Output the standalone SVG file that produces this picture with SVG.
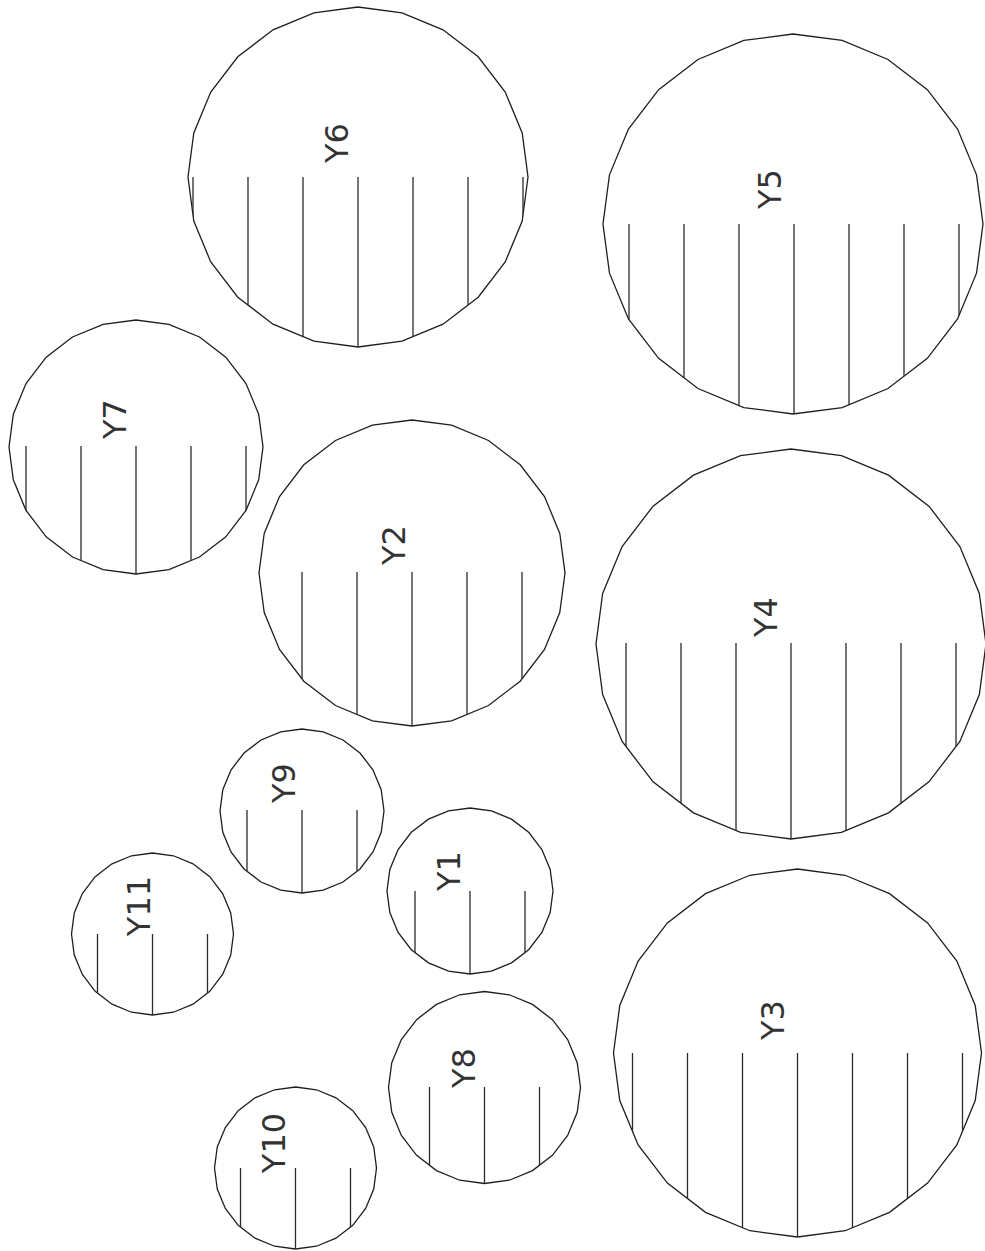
<svg xmlns="http://www.w3.org/2000/svg" xmlns:xlink="http://www.w3.org/1999/xlink" width="985" height="1251" viewBox="0 0 985 1251">
<style>
.ring{fill:none;stroke:#1e1e1e;stroke-width:1.3}
.hatch{fill:none;stroke:#2a2a2a;stroke-width:1.3}
.lbl{font-family:"DejaVu Sans",sans-serif;font-size:32px;fill:#333;text-anchor:middle}
</style>
<defs>
<polygon id="p24" vector-effect="non-scaling-stroke" points="1,0 0.96593,0.25882 0.86603,0.5 0.70711,0.70711 0.5,0.86603 0.25882,0.96593 0,1 -0.25882,0.96593 -0.5,0.86603 -0.70711,0.70711 -0.86603,0.5 -0.96593,0.25882 -1,0 -0.96593,-0.25882 -0.86603,-0.5 -0.70711,-0.70711 -0.5,-0.86603 -0.25882,-0.96593 0,-1 0.25882,-0.96593 0.5,-0.86603 0.70711,-0.70711 0.86603,-0.5 0.96593,-0.25882"/>
<clipPath id="c6"><use href="#p24" transform="translate(358 177) scale(170)"/></clipPath>
<clipPath id="c5"><use href="#p24" transform="translate(793 224) scale(190)"/></clipPath>
<clipPath id="c7"><use href="#p24" transform="translate(136 447) scale(127)"/></clipPath>
<clipPath id="c2"><use href="#p24" transform="translate(412 573) scale(153)"/></clipPath>
<clipPath id="c4"><use href="#p24" transform="translate(791 644) scale(195)"/></clipPath>
<clipPath id="c3"><use href="#p24" transform="translate(797.5 1053) scale(184)"/></clipPath>
<clipPath id="c9"><use href="#p24" transform="translate(302 811) scale(82)"/></clipPath>
<clipPath id="c1"><use href="#p24" transform="translate(470 891) scale(83)"/></clipPath>
<clipPath id="c11"><use href="#p24" transform="translate(152.5 934) scale(81)"/></clipPath>
<clipPath id="c10"><use href="#p24" transform="translate(295.5 1168) scale(81)"/></clipPath>
<clipPath id="c8"><use href="#p24" transform="translate(484.5 1087.5) scale(96)"/></clipPath>
</defs>
<rect width="985" height="1251" fill="#fff"/>

<g id="Y6">
<use href="#p24" class="ring" transform="translate(358 177) scale(170)"/>
<path class="hatch" clip-path="url(#c6)" d="M193 177V348M248 177V348M303 177V348M358 177V348M413 177V348M468 177V348M523 177V348"/>
<text class="lbl" transform="translate(348 143) rotate(-90)">Y6</text>
</g>

<g id="Y5">
<use href="#p24" class="ring" transform="translate(793 224) scale(190)"/>
<path class="hatch" clip-path="url(#c5)" d="M629 224V415M684 224V415M739 224V415M794 224V415M849 224V415M904 224V415M959 224V415"/>
<text class="lbl" transform="translate(781 189) rotate(-90)">Y5</text>
</g>

<g id="Y7">
<use href="#p24" class="ring" transform="translate(136 447) scale(127)"/>
<path class="hatch" clip-path="url(#c7)" d="M26 446V575M81 446V575M136 446V575M191 446V575M246 446V575"/>
<text class="lbl" transform="translate(126 419) rotate(-90)">Y7</text>
</g>

<g id="Y2">
<use href="#p24" class="ring" transform="translate(412 573) scale(153)"/>
<path class="hatch" clip-path="url(#c2)" d="M302 572V727M357 572V727M412 572V727M467 572V727M522 572V727"/>
<text class="lbl" transform="translate(405 545) rotate(-90)">Y2</text>
</g>

<g id="Y4">
<use href="#p24" class="ring" transform="translate(791 644) scale(195)"/>
<path class="hatch" clip-path="url(#c4)" d="M626 643V840M681 643V840M736 643V840M791 643V840M846 643V840M901 643V840M956 643V840"/>
<text class="lbl" transform="translate(777 617) rotate(-90)">Y4</text>
</g>

<g id="Y3">
<use href="#p24" class="ring" transform="translate(797.5 1053) scale(184)"/>
<path class="hatch" clip-path="url(#c3)" d="M632.5 1053V1238M687.5 1053V1238M742.5 1053V1238M797.5 1053V1238M852.5 1053V1238M907.5 1053V1238M962.5 1053V1238"/>
<text class="lbl" transform="translate(784 1020) rotate(-90)">Y3</text>
</g>

<g id="Y9">
<use href="#p24" class="ring" transform="translate(302 811) scale(82)"/>
<path class="hatch" clip-path="url(#c9)" d="M247 810V894M302 810V894M357 810V894"/>
<text class="lbl" transform="translate(295 783) rotate(-90)">Y9</text>
</g>

<g id="Y1">
<use href="#p24" class="ring" transform="translate(470 891) scale(83)"/>
<path class="hatch" clip-path="url(#c1)" d="M415 891V975M470 891V975M525 891V975"/>
<text class="lbl" transform="translate(460 871) rotate(-90)">Y1</text>
</g>

<g id="Y11">
<use href="#p24" class="ring" transform="translate(152.5 934) scale(81)"/>
<path class="hatch" clip-path="url(#c11)" d="M97.5 934V1016M152.5 934V1016M207.5 934V1016"/>
<text class="lbl" transform="translate(150 906) rotate(-90)">Y11</text>
</g>

<g id="Y10">
<use href="#p24" class="ring" transform="translate(295.5 1168) scale(81)"/>
<path class="hatch" clip-path="url(#c10)" d="M240.5 1168V1250M295.5 1168V1250M350.5 1168V1250"/>
<text class="lbl" transform="translate(285 1143) rotate(-90)">Y10</text>
</g>

<g id="Y8">
<use href="#p24" class="ring" transform="translate(484.5 1087.5) scale(96)"/>
<path class="hatch" clip-path="url(#c8)" d="M429.5 1087V1184M484.5 1087V1184M539.5 1087V1184"/>
<text class="lbl" transform="translate(475 1068) rotate(-90)">Y8</text>
</g>
</svg>
